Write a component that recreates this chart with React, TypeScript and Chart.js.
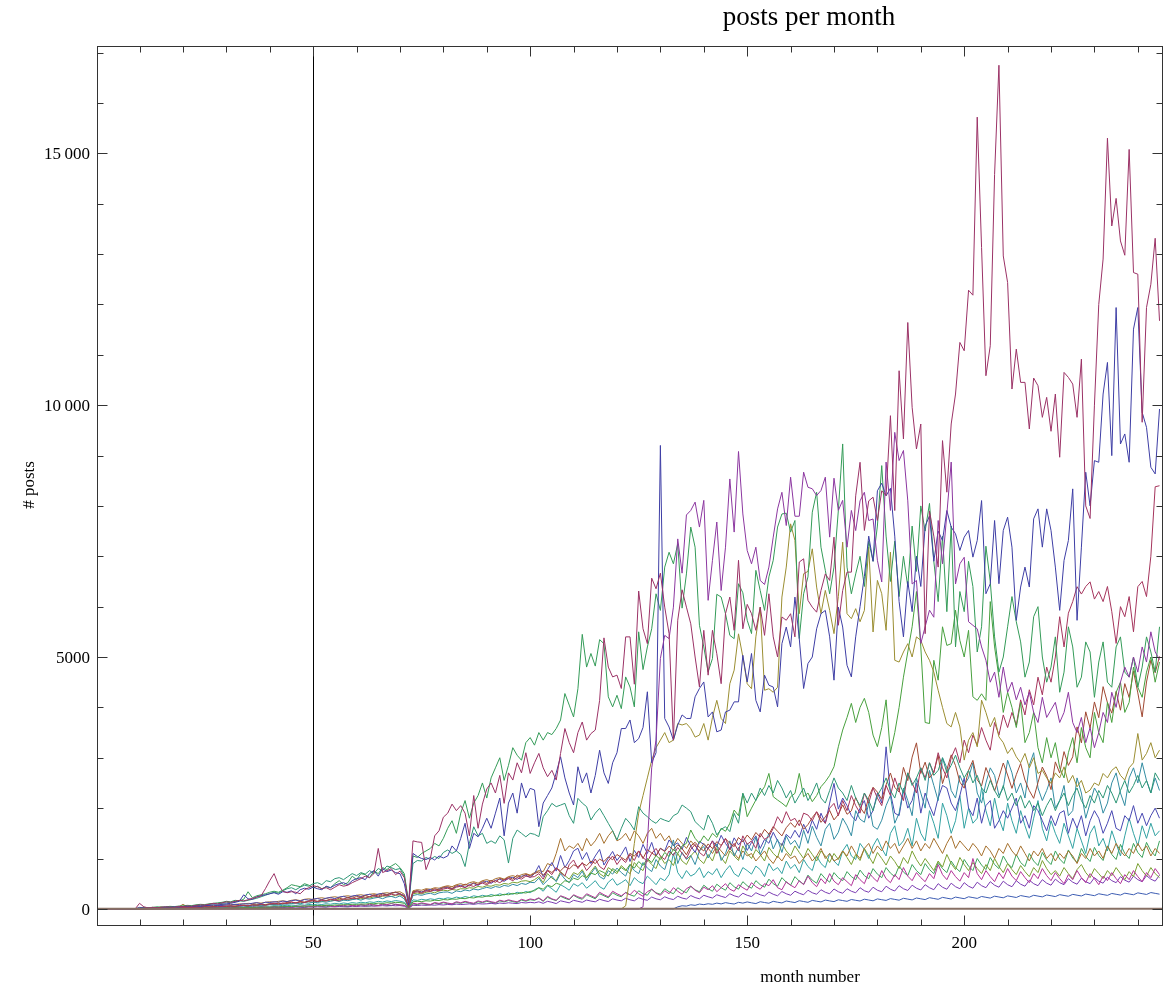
import React, { useEffect, useRef } from 'react';
import { Chart, registerables } from 'chart.js';

Chart.register(...registerables);

const FONT = '"Liberation Serif", "Times New Roman", serif';

const titleText = 'posts per month';
const xAxisLabel = 'month number';
const yAxisLabel = '# posts';

const firstMonth = 1;
const xRange = [0.2, 245.8];
const yRange = [-340, 17130];

const xMajorTicks = [50, 100, 150, 200];
const xMinorTicks = [10, 20, 30, 40, 60, 70, 80, 90, 110, 120, 130, 140, 160, 170, 180, 190, 210, 220, 230, 240];
const yMajorTicks = [0, 5000, 10000, 15000];
const yMajorLabels = ['0', '5000', '10\u2009000', '15\u2009000'];
const yMinorTicks = [1000, 2000, 3000, 4000, 6000, 7000, 8000, 9000, 11000, 12000, 13000, 14000, 16000, 17000];

const crimsonA = [
  0,0,0,0,0,0,0,0,0,110,
  40,20,30,25,30,40,35,30,50,45,
  60,50,70,80,75,90,110,100,120,140,
  130,150,170,160,180,210,230,260,400,560,
  700,480,350,320,340,330,300,380,420,460,
  440,400,420,380,430,480,450,470,520,560,
  600,650,620,700,1200,720,760,800,680,750,
  620,120,1350,1330,1320,780,1000,1450,1550,1820,
  1900,2080,1950,2050,1900,1450,2250,1600,2080,2380,
  2500,2300,2650,2095,2700,2557,2900,2700,3100,2689,
  2900,3086,2800,2624,2750,2557,3086,3580,3300,3100,
  3500,3710,3350,3480,3550,4140,5380,4800,4605,4640,
  4375,5400,5400,4460,6310,5560,5265,6565,6355,6665,
  5990,5465,3350,5730,6335,5990,5660,5000,4405,5530,
  4640,5530,5065,4470,5860,6190,5530,6920,5560,6045,
  5860,5530,5990,5430,6255,5400,5000,5795,5730,5860,
  5400,6885,6950,6125,5990,5890,6320,6650,6520,7380,
  5630,6320,6685,6685,8200,8866,7512,8100,8173,7710,
  8300,8205,9791,7908,10683,9329,11641,9957,9130,9626,
  5463,7900,7400,6785,9296,8272,9626,10221,11245,11080,
  12282,12183,15718,13128,10584,11179,14581,16748,12962,12434,
  10320,11113,10452,10452,9527,10538,10386,9758,10155,9481,
  10221,8966,10650,10551,10419,9758,10914,8000,7750,10000,
  12000,12900,15300,13557,14105,13260,12976,15077,12632,12600,
  9660,11938,12400,13313,11674,
];

const purpleB = [
  0,0,0,0,0,0,0,0,0,0,
  0,0,0,0,0,0,0,0,0,0,
  0,0,0,0,0,0,0,0,0,0,
  0,0,0,0,0,0,0,0,0,0,
  0,0,0,0,0,0,0,0,0,0,
  0,0,0,0,0,0,0,0,0,0,
  0,0,0,0,0,0,0,0,0,0,
  0,0,0,0,0,0,0,0,0,0,
  0,0,0,0,0,0,0,0,0,0,
  0,0,0,0,0,0,0,0,0,0,
  0,0,0,0,0,0,0,0,0,0,
  0,0,0,0,0,0,0,0,0,0,
  0,0,0,0,0,40,1300,2800,3350,4970,
  5430,5365,5990,7345,6665,7820,7910,8075,7580,8110,
  6125,6920,7680,6320,7180,8535,7480,9080,7840,7115,
  6850,7180,6520,6440,6785,7380,7940,8270,7610,8570,
  7795,7795,8670,8370,8340,8205,8305,8570,7380,8550,
  7910,8110,7180,7910,7510,8100,8270,7710,7740,6920,
  6490,8870,7910,9460,8900,9100,8100,6450,6520,5270,
  5600,5930,5790,7710,6850,7840,8870,6450,6850,6980,
  5700,5630,5560,5200,4935,4500,4700,4200,4800,4300,
  4500,4150,4400,4050,4300,3900,3700,4200,3800,3950,
  4100,3700,3900,4300,3700,3500,3800,3300,3600,3200,
  3500,3900,3700,4300,4000,4500,4800,4600,5000,4700,
  5200,4900,5500,5100,4950,
];

const blueC = [
  0,0,0,0,0,0,0,0,0,30,
  20,15,25,20,30,35,30,40,35,45,
  50,45,60,55,65,70,80,75,90,100,
  110,130,150,280,200,190,240,260,280,300,
  320,290,340,330,360,300,380,410,390,430,
  400,380,450,420,470,500,520,480,560,600,
  620,580,700,760,650,800,740,770,720,700,
  500,80,1100,1040,1000,980,1020,971,1050,1010,
  1050,1250,1150,1400,1700,1200,1500,1430,1600,1800,
  1600,1900,2200,1450,2100,2300,1900,2500,2200,2392,
  2360,1632,2100,2250,2400,2700,3020,2600,2300,2062,
  2821,2500,2700,2300,2650,3150,2700,2490,2900,3100,
  3580,3580,3750,3300,3380,3600,4310,2900,3100,9200,
  3780,3610,3350,3650,3850,3780,3780,4210,4375,4505,
  3810,3910,3515,3550,3910,3945,4110,4110,5035,4505,
  5070,4140,3910,4640,4440,4405,4010,5265,5595,5200,
  6190,5365,4375,4870,5000,5560,5860,5925,5400,4540,
  5990,5595,4835,4605,5400,6000,6600,7400,6900,8300,
  8450,8200,8350,7400,6100,5400,6500,5900,7000,6400,
  7600,7800,6900,7500,7314,7908,7578,7446,7115,7380,
  7512,6983,7314,8106,6256,6455,7710,6455,7512,7776,
  7181,5728,6389,6785,6389,7743,7941,7181,7941,7512,
  6785,5926,6917,7314,8338,5728,7181,8668,8000,8899,
  8866,10221,10848,8998,11938,9229,9428,8866,11509,11938,
  9857,9560,8767,8635,9923,
];

const greenD = [
  0,0,0,0,0,0,0,0,0,20,
  30,25,30,40,35,40,50,45,55,60,
  70,65,80,90,85,100,110,120,130,150,
  140,170,160,190,340,220,260,280,300,330,
  350,330,370,420,480,460,440,500,470,420,
  450,400,440,420,500,560,480,520,650,580,
  700,680,620,750,700,820,780,850,900,820,
  700,130,1050,1020,1100,1150,1200,1300,1250,1400,
  1600,1750,1500,1900,2150,1800,2100,2250,2500,2200,
  2600,2800,3000,2550,2850,3200,3050,2950,3300,3400,
  3250,3500,3350,3500,3460,3580,3750,4275,4045,3810,
  4370,5450,4800,5070,4820,5345,5265,4210,4010,4240,
  3975,4605,4405,4010,5500,4750,5200,5560,6255,5925,
  6785,7080,6850,7250,5970,6650,7580,7180,5630,5200,
  4705,4970,6245,6190,5860,5430,5365,6455,6275,5730,
  5465,6720,6320,5925,6590,6920,7580,7840,7855,7480,
  7710,5365,6255,6590,7875,8270,7180,6720,6255,6785,
  7910,9230,6785,6255,6650,7000,6400,7300,6900,7600,
  8800,7400,6500,7300,6200,7000,6400,7600,6700,8000,
  7500,8050,6900,6100,7400,5900,7600,5200,6300,5900,
  6900,6400,5100,5600,7200,6500,5400,4700,5000,5600,
  6200,5700,5300,4600,4900,5800,6000,5000,4500,4800,
  5400,4300,4700,5600,5200,4400,4600,5300,5100,4200,
  4900,5300,4500,4400,5200,5400,4700,4600,5000,4400,
  4800,5400,5100,4700,5600,
];

const tealGreenE = [
  0,0,0,0,0,0,0,0,0,10,
  20,15,20,30,25,30,40,35,45,50,
  55,60,70,65,80,90,100,95,110,120,
  130,140,160,150,170,190,210,240,270,300,
  330,310,360,400,420,380,430,470,450,500,
  520,480,560,540,600,620,580,640,700,660,
  720,690,760,700,800,760,850,820,780,800,
  650,100,900,960,950,1020,980,1040,1000,1120,
  1170,1100,1150,1080,840,1300,1630,1450,1500,1300,
  1350,1300,1450,1370,910,1400,1565,1500,1430,1500,
  1480,1434,1830,1950,2095,2029,2060,2095,1850,1698,
  2194,2100,2029,1764,1900,1996,1850,1698,1550,1368,
  1600,1797,1700,1566,2029,1900,1830,1750,1698,1797,
  1760,1731,1850,1896,2062,2000,1930,1731,1650,1566,
  1863,1700,1467,1580,1632,1533,1896,1700,2293,2100,
  2300,2150,2400,2250,2450,2300,2550,2400,2200,2350,
  2100,2250,2400,2150,2300,2500,2200,2100,2350,2600,
  2400,2300,2150,2450,2200,2050,2300,2150,1950,2250,
  2400,2600,2350,2200,2500,2300,2700,2450,2600,2800,
  2550,2900,2650,2750,3000,2700,2850,3050,2800,2600,
  2750,2500,2650,2400,2300,2550,2350,2200,2450,2150,
  2300,2050,2250,2000,2150,1950,2100,1850,2050,2200,
  1950,2150,2300,2050,2250,2400,2150,2000,2250,2100,
  2350,2200,2450,2300,2100,2350,2550,2300,2450,2650,
  2400,2550,2300,2700,2550,
];

const oliveF = [
  0,0,0,0,0,0,0,0,0,0,
  0,0,0,0,0,0,0,0,0,0,
  0,0,0,0,0,0,0,0,0,0,
  0,0,0,0,0,0,0,0,0,0,
  0,0,0,0,0,0,0,0,0,0,
  0,0,0,0,0,0,0,0,0,0,
  0,0,0,0,0,0,0,0,0,0,
  0,0,0,0,0,0,0,0,0,0,
  0,0,0,0,0,0,0,0,0,0,
  0,0,0,0,0,0,0,0,0,0,
  0,0,0,0,0,0,0,0,0,0,
  0,0,0,0,0,0,0,0,0,0,
  0,60,650,1300,1900,2250,2600,2950,3200,3350,
  3500,3300,3350,3680,3650,3680,3580,3410,3450,3680,
  3350,3800,4140,3780,3680,4470,4740,5460,5000,4470,
  4370,5400,5990,4340,4370,4300,4400,6190,6785,7644,
  7314,5860,6653,6700,7148,6388,5860,6322,5926,5464,
  6200,7281,5860,5761,5960,5700,5926,7181,5497,6521,
  6256,5530,7082,4935,4900,5100,5265,5000,5400,5331,
  5100,4935,4700,4340,4000,3679,3613,3900,3613,2953,
  3349,3500,3217,4142,3900,3613,3800,3415,3300,3085,
  3200,3019,2900,3085,2800,3000,2688,2750,2600,2490,
  2700,2600,2820,2500,2650,2424,2550,2300,2358,2500,
  2450,2688,2600,2750,2820,2650,2556,2800,2900,3481,
  2953,3085,3300,3000,3151,
];

const greenG = [
  0,0,0,0,0,0,0,0,0,0,
  0,0,0,0,0,0,0,0,0,0,
  0,5,8,6,10,12,9,15,13,18,
  16,22,19,25,28,24,32,29,36,33,
  40,37,45,42,50,47,56,52,60,58,
  66,62,72,68,78,74,85,80,92,88,
  98,94,106,101,114,108,122,116,130,125,
  110,20,140,150,145,160,155,172,166,185,
  178,196,190,210,202,225,216,240,232,256,
  248,272,262,290,280,308,296,326,315,345,
  360,420,390,470,440,510,480,560,530,610,
  580,660,620,710,680,760,720,650,800,740,
  820,760,880,810,940,860,1000,920,1060,980,
  1120,1040,1180,1100,1250,1300,1566,1400,1300,1450,
  1350,1500,1420,1600,1540,1698,1962,1850,2293,1830,
  2000,2161,2300,2425,2689,2227,2161,2100,2029,2227,
  2293,2689,2227,2300,2128,2250,2425,2524,2650,2821,
  3218,3550,3800,4080,3700,4000,4180,3900,3450,3220,
  3600,4150,3100,3500,4000,4600,5100,5600,6300,5200,
  3700,3680,4935,4540,5600,5230,5265,5930,5330,5000,
  5530,4210,4140,4270,4140,6100,5200,4600,3900,4300,
  4000,3600,4100,3300,3500,3900,3200,2900,3400,3000,
  3300,2800,2600,3100,3400,2900,3600,3200,3000,3900,
  3500,3300,4100,3700,4300,4500,3900,4100,4800,4400,
  4200,4700,5000,4500,4900,
];

const crimsonH = [
  0,0,0,0,0,0,0,0,0,0,
  0,10,5,15,10,20,15,10,25,20,
  30,25,35,30,45,40,35,50,45,55,
  60,50,70,65,55,80,75,90,70,95,
  110,90,120,105,135,115,140,125,150,160,
  145,170,155,185,175,160,200,190,215,205,
  230,210,245,260,235,270,255,290,275,300,
  250,45,320,340,310,355,345,380,360,395,
  410,385,430,450,420,470,445,490,510,480,
  530,560,520,575,600,560,620,590,650,630,
  641,700,590,760,680,820,720,650,880,971,
  800,920,760,860,990,840,780,950,1050,880,
  1000,920,1080,960,1150,1020,940,1100,1200,1050,
  980,1150,1060,1220,1104,1000,1180,1280,1120,1050,
  1200,1350,1100,1250,1400,1180,1300,1150,1450,1280,
  1350,1200,1500,1380,1434,1600,1830,1700,1930,1750,
  1797,1650,1900,1863,1750,1930,1800,1698,2000,2095,
  1850,2150,1950,2250,2050,1900,2300,2100,2400,2200,
  2050,2450,2250,2600,2350,2150,2700,2500,2300,2800,
  2600,2900,2700,3100,2800,2600,3000,3200,2900,3350,
  3100,3450,3250,3600,3350,3150,3700,3450,3850,3600,
  3900,3650,4150,3850,4350,4050,4600,4250,4800,4500,
  5000,5800,5200,5870,6100,6396,6250,6400,6492,6150,
  6300,6100,6400,5900,5270,6000,5800,6200,5500,6396,
  6500,6200,7000,8380,8400,
];

const redBrownI = [
  0,0,0,0,0,0,0,0,0,0,
  10,5,12,15,9,20,14,25,18,22,
  30,24,36,28,41,33,47,38,52,44,
  58,49,63,72,60,84,71,93,80,104,
  96,115,102,128,137,118,149,131,158,172,
  150,181,166,195,176,214,190,232,207,248,
  226,262,238,281,255,298,276,315,334,302,
  245,42,338,362,321,385,357,402,374,428,
  441,405,468,436,492,455,520,478,548,505,
  566,528,605,574,628,590,671,622,690,655,
  702,735,668,768,722,805,756,842,790,876,
  835,905,858,948,902,986,941,1032,975,1080,
  1022,968,1104,1046,1150,998,1176,1110,1052,1205,
  1138,1246,1168,1272,1196,1074,1248,1322,1218,1150,
  1290,1196,1336,1258,1392,1302,1236,1418,1328,1466,
  1368,1516,1424,1578,1482,1634,1540,1448,1612,1712,
  1618,1766,1580,1674,1812,1924,1718,1826,1954,1766,
  1872,2064,1878,1946,2212,2018,1894,2214,2416,2318,
  2176,2462,2698,2412,2320,2808,2546,3012,3296,2688,
  2912,2598,2714,3046,2488,2762,3058,2844,2516,2396,
  2752,2948,2564,2442,2806,2594,2338,2612,2896,2658,
  2392,2664,2886,2558,2346,2194,2508,2816,2642,2368,
  2918,2696,3122,2848,3019,3613,3296,3912,3588,4108,
  3796,4412,4094,3886,4318,3944,4472,4196,4718,4288,
  3811,4504,4935,4688,5012,
];

const tealK = [
  0,0,0,0,0,0,0,0,0,0,
  4,9,6,12,8,15,11,18,13,21,
  24,19,28,22,33,26,38,31,43,36,
  49,41,55,62,48,66,73,58,78,85,
  88,79,97,92,104,116,98,124,112,133,
  126,144,132,153,168,146,174,162,183,196,
  172,205,193,214,228,202,236,248,222,257,
  198,28,266,284,268,296,310,282,318,332,
  336,308,356,342,375,358,394,376,402,428,
  408,444,426,466,448,488,462,505,486,528,
  520,610,480,570,650,540,700,590,520,680,
  620,750,560,700,820,640,590,760,690,810,
  720,650,880,760,700,920,810,740,980,850,
  780,1050,1368,900,1120,980,1060,880,1150,1240,
  1010,1180,1290,960,1100,1350,1050,1220,980,1300,
  1150,1420,1080,1260,1500,1190,1380,1120,1450,1280,
  1360,1200,1560,1300,1640,1420,1250,1580,1700,1380,
  1520,1800,1650,1450,1950,1780,1720,2100,1640,1580,
  1760,2050,2250,1700,1900,2400,2150,1850,2600,2300,
  2000,2750,2450,2150,3000,2800,2350,2200,2650,2450,
  2600,2900,2300,2100,2500,2800,2650,2250,2400,2950,
  2700,2300,2500,2200,2850,3100,2400,2150,2350,2600,
  2000,2150,2450,1850,1950,2600,2300,1800,2100,2400,
  2250,1900,2100,2500,2700,2300,2050,2600,2800,2500,
  2900,2550,2300,2600,2350,
];

const blueL = [
  0,0,0,0,0,0,0,0,0,0,
  10,16,9,22,14,27,19,33,24,38,
  42,34,52,44,58,63,49,72,66,81,
  74,92,84,103,94,112,124,102,133,126,
  142,131,155,144,163,175,152,186,172,194,
  205,182,214,226,202,236,248,220,256,268,
  242,276,288,258,296,308,280,318,328,296,
  268,38,334,356,338,364,386,362,394,416,
  424,398,446,468,428,486,504,466,526,548,
  506,566,588,546,606,628,584,648,668,624,
  700,860,640,780,920,750,1060,820,960,1150,
  1203,980,1120,900,1050,1180,870,1010,1140,960,
  1080,1230,940,1160,1020,1280,1100,1320,1050,1200,
  1150,1368,1260,1310,1180,1420,1250,1120,1340,1280,
  1190,1350,1240,1460,1300,1180,1410,1270,1380,1160,
  1320,1450,1200,1380,1302,1520,1350,1260,1480,1400,
  1560,1420,1680,1500,1760,1580,1900,1700,2100,2491,
  1980,2200,2050,1850,1750,2000,2150,1800,1950,2300,
  2100,3217,2300,1900,1850,2350,2000,2150,2500,1900,
  2300,2050,1850,2200,2450,2400,2100,1950,2250,2600,
  2000,1850,2200,1700,2050,2150,1600,1750,1950,1800,
  2000,2200,1700,1850,1600,2050,1950,1750,1550,1850,
  1650,1900,1950,1500,1800,1600,1850,1450,1750,1950,
  1800,1500,1700,1950,1600,1550,1850,1750,2050,1700,
  1900,1650,1850,2000,1800,
];

const orangeM = [
  0,0,0,0,0,0,0,0,0,0,
  20,10,30,15,40,20,30,25,35,90,
  40,30,50,45,60,55,70,65,80,75,
  90,85,100,95,110,105,120,115,130,140,
  135,150,160,145,170,180,165,190,200,185,
  210,220,205,230,240,225,250,260,245,270,
  280,265,290,300,285,310,320,305,330,340,
  290,50,360,380,370,400,390,420,410,440,
  460,440,480,500,470,520,540,510,560,580,
  550,600,620,590,640,660,630,680,700,670,
  720,760,740,900,860,1100,1400,1150,1250,1200,
  1300,1150,1400,1250,1350,1500,1300,1450,1550,1350,
  1400,1500,1350,1550,1450,1300,1500,1600,1400,1500,
  1350,1450,1250,1400,1300,1200,1350,1250,1150,1300,
  1200,1100,1250,1150,1050,1200,1100,1000,1150,1050,
  1100,950,1050,1150,1000,900,1050,950,1100,1000,
  1050,900,1000,1100,950,1050,1200,1000,1100,950,
  1000,1150,1050,1250,1100,1000,1200,1300,1100,1250,
  1150,1350,1200,1300,1100,1250,1400,1200,1350,1150,
  1300,1200,1400,1250,1100,1300,1450,1200,1350,1250,
  1150,1300,1200,1050,1250,1150,1000,1200,1100,1300,
  1150,1050,1250,1100,950,1150,1050,1200,1000,1100,
  950,1100,1000,1150,1050,900,1100,1000,1200,1050,
  1150,1000,1250,1100,1300,1150,1050,1200,1100,1300,
  1150,1250,1050,1200,1100,
];

const magentaN = [
  0,0,0,0,0,0,0,0,0,0,
  0,0,8,4,12,6,10,15,9,14,
  18,12,22,16,14,25,19,28,21,17,
  30,24,35,27,22,38,31,42,34,28,
  45,37,50,41,34,55,46,60,49,42,
  64,53,70,58,48,75,62,80,66,57,
  85,71,92,76,66,98,82,105,88,77,
  70,15,112,95,120,101,88,126,108,135,
  115,100,142,122,150,128,112,158,135,165,
  142,125,172,150,180,158,140,190,165,198,
  180,220,160,250,200,170,260,230,190,280,
  240,210,300,260,220,330,280,240,350,300,
  260,320,280,370,300,250,340,390,310,270,
  360,300,420,350,290,400,450,370,320,430,
  380,460,340,420,500,390,350,480,420,370,
  520,440,390,500,460,580,420,380,540,470,
  420,560,480,650,520,440,600,500,700,550,
  480,620,540,460,680,580,500,720,620,540,
  760,600,520,680,580,820,650,560,720,620,
  540,700,600,880,680,580,760,640,550,720,
  620,1000,700,580,760,640,540,720,600,800,
  650,560,740,620,520,700,600,800,660,560,
  720,600,500,680,580,760,620,520,700,600,
  480,650,560,720,600,500,680,580,760,640,
  540,720,620,800,680,
];

const yGreenO = [
  0,0,0,0,0,0,0,0,0,0,
  5,12,8,15,10,18,22,14,20,26,
  24,30,22,35,40,33,45,38,50,55,
  48,60,56,70,64,75,82,70,88,95,
  90,104,98,115,108,125,118,135,140,128,
  150,142,165,158,170,185,176,195,188,210,
  200,220,215,240,228,250,262,245,270,280,
  240,40,300,315,295,330,342,320,355,370,
  360,385,372,400,395,420,410,445,430,460,
  450,480,470,505,490,530,515,550,560,540,
  580,640,520,700,610,560,740,660,590,720,
  680,780,620,740,850,700,640,820,760,700,
  860,780,700,920,820,760,980,880,800,1040,
  900,980,860,1100,950,880,1050,1150,980,900,
  1080,950,1200,1020,900,1150,1050,960,1250,1100,
  1000,1180,1080,950,1220,1100,1020,1300,1150,1050,
  1250,1120,1000,1200,1080,950,1150,1050,920,1100,
  980,1150,1020,880,1080,960,1200,1050,900,1120,
  1000,870,1050,940,800,1020,900,1150,980,850,
  1000,880,760,950,830,1080,900,780,1020,880,
  760,920,800,700,880,760,1000,840,720,900,
  780,680,860,740,640,820,720,960,800,680,
  760,650,820,700,600,780,880,720,620,800,
  700,600,760,660,820,700,580,740,640,900,
  760,650,820,700,620,
];

const cyanP = [
  0,0,0,0,0,0,0,0,0,0,
  0,5,10,5,12,8,15,10,18,14,
  20,16,25,20,28,24,32,27,35,30,
  40,34,45,38,50,44,55,48,60,52,
  65,58,70,62,75,68,82,74,88,80,
  95,86,102,92,110,98,118,105,125,112,
  132,120,140,128,150,136,158,145,165,152,
  130,25,180,168,190,175,200,185,210,195,
  220,205,235,215,245,225,260,240,270,250,
  285,262,300,275,315,290,330,305,345,320,
  380,420,350,460,400,330,480,430,370,500,
  450,520,410,480,560,440,390,530,600,470,
  520,580,460,620,540,500,650,570,480,610,
  560,680,1100,720,600,760,650,700,820,620,
  740,680,800,620,760,860,700,640,820,760,
  690,850,780,640,900,760,820,700,950,800,
  880,720,980,840,760,1050,900,820,1100,950,
  860,1150,1280,1050,980,1300,1180,1000,1250,1400,
  1200,1050,1500,1650,1250,1350,1600,1250,1800,1500,
  1350,1950,1700,1400,2100,1850,1500,1750,2250,1600,
  2000,1700,1800,2400,1950,1650,2200,1800,1550,2100,
  1750,1500,1950,1650,1400,1800,2150,1600,1350,1750,
  1500,1300,1700,1450,1200,1600,1350,1100,1500,1650,
  1250,1400,1150,1550,1300,1050,1450,1800,1500,1250,
  1650,1400,1700,1450,1550,
];

const violetQ = [
  0,0,0,0,0,0,0,0,0,0,
  0,4,2,6,3,8,5,4,9,6,
  12,8,10,15,11,9,16,13,18,12,
  20,17,14,22,19,25,18,27,23,21,
  30,26,24,33,28,36,31,27,38,35,
  42,37,34,45,40,48,43,39,52,46,
  55,49,60,53,58,64,57,68,61,66,
  52,12,72,66,75,70,79,73,84,77,
  88,81,95,86,92,99,90,104,97,101,
  110,98,116,107,121,112,105,126,118,130,
  120,140,110,150,130,105,160,140,120,170,
  150,130,175,155,140,190,165,145,200,175,
  160,210,180,160,220,190,170,235,200,180,
  240,205,185,250,215,195,265,225,200,270,
  240,215,280,250,225,300,260,235,310,270,
  245,320,280,255,335,290,260,345,300,270,
  350,310,280,370,320,290,380,330,300,395,
  340,310,400,350,320,420,360,330,430,370,
  340,450,390,355,460,400,365,470,410,375,
  480,420,380,500,430,390,510,440,400,520,
  450,410,530,460,420,540,470,430,550,480,
  440,560,490,450,570,500,460,580,510,470,
  590,520,480,600,530,490,610,540,500,620,
  550,510,630,560,520,640,570,530,650,580,
  540,660,590,550,670,
];

const blueR = [
  0,0,0,0,0,0,0,0,0,0,
  0,0,0,0,0,0,0,0,0,0,
  0,0,0,0,0,0,0,0,0,0,
  0,0,0,0,0,0,0,0,0,0,
  0,0,0,0,0,0,0,0,0,0,
  0,0,0,0,0,0,0,0,0,0,
  0,0,0,0,0,0,0,0,0,0,
  0,0,0,0,0,0,0,0,0,0,
  0,0,0,0,0,0,0,0,0,0,
  0,0,0,0,0,0,0,0,0,0,
  0,0,0,0,0,0,0,0,0,0,
  0,0,0,0,0,0,0,0,0,0,
  0,0,0,0,0,0,0,0,0,0,
  0,0,0,40,62,55,81,70,96,84,
  102,90,115,98,124,108,96,130,114,138,
  120,105,142,126,112,150,132,118,156,140,
  125,162,146,130,168,152,138,175,158,144,
  180,165,150,186,170,156,192,176,160,198,
  182,168,204,188,172,210,194,178,216,200,
  184,222,206,190,228,212,196,234,218,202,
  240,224,208,246,230,214,252,236,220,258,
  242,226,264,248,232,270,254,238,276,260,
  244,282,266,250,288,272,256,294,278,262,
  300,284,268,306,290,274,312,296,280,318,
  302,286,324,308,292,
];

const greenT = [
  0,0,0,0,0,0,0,0,0,0,
  0,6,3,9,5,11,7,4,12,8,
  14,10,17,12,20,15,11,22,16,25,
  19,28,22,31,25,20,34,27,38,30,
  42,35,29,46,38,50,41,34,55,45,
  60,48,40,64,52,68,56,46,72,60,
  78,64,54,82,68,88,72,62,94,78,
  70,15,100,84,108,90,78,114,96,122,
  104,90,128,110,136,116,100,142,124,150,
  130,112,158,138,166,144,126,174,152,182,
  170,210,150,230,190,165,250,210,180,270,
  220,190,280,240,200,300,260,220,320,270,
  240,330,280,250,360,300,270,390,320,290,
  400,340,300,420,360,320,450,380,340,470,
  400,350,490,420,370,520,440,390,540,460,
  410,560,480,430,590,500,450,620,530,470,
  640,550,490,670,570,510,700,600,530,720,
  620,560,740,640,580,770,660,600,800,690,
  620,820,710,640,850,730,660,880,760,680,
  900,780,700,920,800,720,950,820,740,980,
  850,760,1000,870,780,1020,880,800,1050,900,
  820,1080,920,840,1100,950,860,1120,970,880,
  1150,990,900,1170,1010,920,1200,1040,940,1220,
  1060,960,1250,1080,980,1280,1100,1000,1300,1120,
  1020,1320,1150,1050,1350,
];

const seriesValues = [
  crimsonA, purpleB, blueC, greenD, tealGreenE, oliveF, greenG, crimsonH,
  redBrownI, tealK, blueL, orangeM, magentaN, yGreenO, cyanP, violetQ, blueR, greenT,
];
const seriesColors = [
  'rgb(155,50,102)', 'rgb(140,55,160)', 'rgb(62,62,165)', 'rgb(52,155,88)',
  'rgb(45,150,118)', 'rgb(155,142,50)', 'rgb(72,160,62)', 'rgb(165,52,92)',
  'rgb(160,72,50)', 'rgb(50,140,162)', 'rgb(72,72,178)', 'rgb(165,112,45)',
  'rgb(178,50,152)', 'rgb(122,160,50)', 'rgb(50,162,162)', 'rgb(122,60,178)',
  'rgb(60,92,178)', 'rgb(60,162,92)',
];

export default function App() {
  const canvasRef = useRef<HTMLCanvasElement | null>(null);

  useEffect(() => {
    const canvas = canvasRef.current;
    if (!canvas) return;

    const framePlugin = {
      id: 'mmaFrame',
      beforeDatasetsDraw(chart: any) {
        const { ctx, chartArea: a, scales } = chart;
        const x = scales.x;
        ctx.save();
        const x50 = Math.round(x.getPixelForValue(50)) + 0.5;
        ctx.strokeStyle = '#000';
        ctx.lineWidth = 1;
        ctx.beginPath();
        ctx.moveTo(x50, a.top);
        ctx.lineTo(x50, a.bottom);
        ctx.stroke();
        ctx.restore();
      },
      afterDatasetsDraw(chart: any) {
        const { ctx, chartArea: a, scales } = chart;
        const y = scales.y;
        ctx.save();
        const y0 = y.getPixelForValue(0);
        ctx.strokeStyle = 'rgb(135,112,100)';
        ctx.lineWidth = 2;
        ctx.beginPath();
        ctx.moveTo(a.left, y0);
        ctx.lineTo(a.right, y0);
        ctx.stroke();
        ctx.restore();
      },
      afterDraw(chart: any) {
        const { ctx, chartArea: a, scales } = chart;
        const x = scales.x;
        const y = scales.y;
        ctx.save();
        ctx.strokeStyle = '#333';
        ctx.lineWidth = 1;
        const L = a.left + 0.5, R = a.right - 0.5, T = a.top + 0.5, B = a.bottom - 0.5;
        ctx.strokeRect(L, T, R - L, B - T);

        const major = 10, minor = 6;
        ctx.beginPath();
        xMajorTicks.forEach((v) => {
          const px = Math.round(x.getPixelForValue(v)) + 0.5;
          ctx.moveTo(px, B); ctx.lineTo(px, B - major);
          ctx.moveTo(px, T); ctx.lineTo(px, T + major);
        });
        xMinorTicks.forEach((v) => {
          const px = Math.round(x.getPixelForValue(v)) + 0.5;
          ctx.moveTo(px, B); ctx.lineTo(px, B - minor);
          ctx.moveTo(px, T); ctx.lineTo(px, T + minor);
        });
        yMajorTicks.forEach((v) => {
          const py = Math.round(y.getPixelForValue(v)) + 0.5;
          ctx.moveTo(L, py); ctx.lineTo(L + major, py);
          ctx.moveTo(R, py); ctx.lineTo(R - major, py);
        });
        yMinorTicks.forEach((v) => {
          const py = Math.round(y.getPixelForValue(v)) + 0.5;
          ctx.moveTo(L, py); ctx.lineTo(L + minor, py);
          ctx.moveTo(R, py); ctx.lineTo(R - minor, py);
        });
        ctx.stroke();

        ctx.fillStyle = '#000';
        ctx.font = `17px ${FONT}`;
        ctx.textAlign = 'center';
        ctx.textBaseline = 'alphabetic';
        xMajorTicks.forEach((v) => {
          ctx.fillText(String(v), x.getPixelForValue(v), 948);
        });
        ctx.textAlign = 'right';
        yMajorTicks.forEach((v, i) => {
          ctx.fillText(yMajorLabels[i], 90, y.getPixelForValue(v) + 6);
        });

        ctx.textAlign = 'center';
        ctx.font = `17px ${FONT}`;
        ctx.fillText(xAxisLabel, 810, 982);
        ctx.font = `27px ${FONT}`;
        ctx.fillText(titleText, 809, 25);

        ctx.font = `17px ${FONT}`;
        ctx.translate(34, 485);
        ctx.rotate(-Math.PI / 2);
        ctx.fillText(yAxisLabel, 0, 0);
        ctx.restore();
      },
    };

    const chart = new Chart(canvas, {
      type: 'line',
      data: {
        datasets: seriesValues.map((vals, si) => ({
          data: vals.map((v, i) => ({ x: firstMonth + i, y: v })),
          borderColor: seriesColors[si],
          backgroundColor: seriesColors[si],
          borderWidth: 1,
          pointRadius: 0,
          fill: false,
          tension: 0,
        })),
      },
      options: {
        animation: false,
        responsive: false,
        devicePixelRatio: 1,
        events: [],
        layout: { padding: { top: 46, right: 5, left: 0, bottom: 0 } },
        plugins: {
          legend: { display: false },
          tooltip: { enabled: false },
          title: { display: false },
        },
        scales: {
          x: {
            type: 'linear',
            min: xRange[0],
            max: xRange[1],
            grid: { display: false, drawTicks: false },
            border: { display: false },
            ticks: { display: false },
            afterFit: (s: any) => { s.height = 59; },
          },
          y: {
            type: 'linear',
            min: yRange[0],
            max: yRange[1],
            grid: { display: false, drawTicks: false },
            border: { display: false },
            ticks: { display: false },
            afterFit: (s: any) => { s.width = 97; },
          },
        },
      },
      plugins: [framePlugin],
    } as any);

    return () => chart.destroy();
  }, []);

  return (
    <div style={{ position: 'absolute', left: 0, top: 0, width: 1168, height: 985, background: '#fff' }}>
      <canvas ref={canvasRef} width={1168} height={985} style={{ width: 1168, height: 985, display: 'block' }} />
    </div>
  );
}
